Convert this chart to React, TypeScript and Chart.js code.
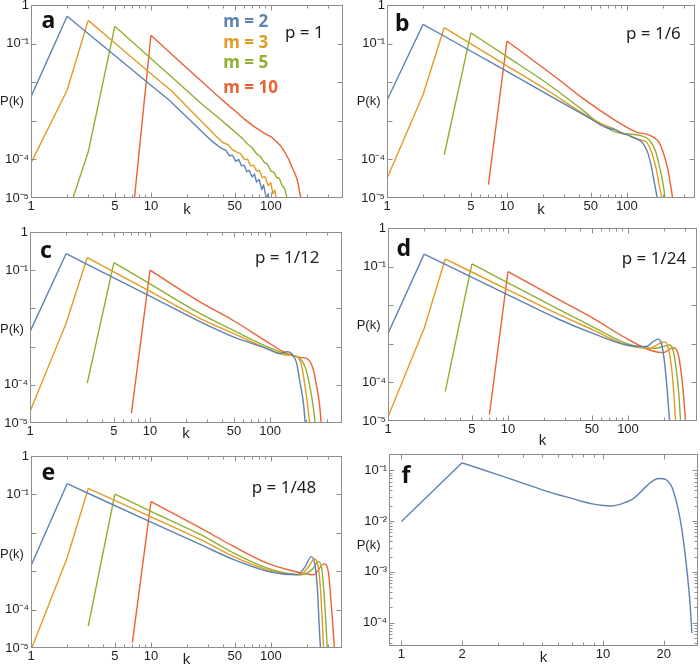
import React, { useEffect, useRef } from "react";
import { Chart, registerables } from "chart.js";

Chart.register(...registerables);

// ---------- colours ----------
const SERIES_COLORS = ["#5E81B5", "#E19C24", "#8FB032", "#EB6235"];
const FRAME_COLOR = "#8e8e8e";
const TEXT_COLOR = "#1e1e1e";

// ---------- categories / labels ----------
const M_VALUES = [2, 3, 5, 10];
const LEGEND_LABELS = ["m = 2", "m = 3", "m = 5", "m = 10"];
const P_LABELS = ["p = 1", "p = 1/6", "p = 1/12", "p = 1/24", "p = 1/48"];
const PANEL_LETTERS = ["a", "b", "c", "d", "e", "f"];

// ---------- ticks ----------
const X_TICKS = [1, 5, 10, 50, 100];
const X_TICK_LABELS = ["1", "5", "10", "50", "100"];
const X_MINOR = [2, 3, 4, 6, 7, 8, 9, 20, 30, 40, 60, 70, 80, 90, 200, 300];
const Y_TICKS = [1, 1e-1, 1e-2, 1e-3, 1e-4, 1e-5];
const Y_TICK_LABELS = ["1", "10⁻¹", "", "", "10⁻⁴", "10⁻⁵"];
const Y_MINOR: number[] = [];

const F_X_TICKS = [1, 2, 10, 20];
const F_X_TICK_LABELS = ["1", "2", "10", "20"];
const F_X_MINOR = [3, 4, 5, 6, 7, 8, 9];
const F_Y_TICKS = [1e-1, 1e-2, 1e-3, 1e-4];
const F_Y_TICK_LABELS = ["10⁻¹", "10⁻²", "10⁻³", "10⁻⁴"];
const F_Y_MINOR = [
  2e-1, 9e-2, 8e-2, 7e-2, 6e-2, 5e-2, 4e-2, 3e-2, 2e-2,
  9e-3, 8e-3, 7e-3, 6e-3, 5e-3, 4e-3, 3e-3, 2e-3,
  9e-4, 8e-4, 7e-4, 6e-4, 5e-4, 4e-4, 3e-4, 2e-4,
  9e-5, 8e-5, 7e-5, 6e-5, 5e-5, 4e-5,
];

// ---------- panel a (p = 1) ----------
const A_K_M2 = [1, 2, 5, 10, 14, 18, 22, 26, 30, 33, 36, 39, 42, 45, 48, 51, 54, 57, 60, 63, 66, 70, 73, 76, 80, 84, 87, 90, 93, 95, 98];
const A_P_M2 = [4.2e-3, 0.51, 4.9e-2, 8.3e-3, 3.55e-3, 1.7e-3, 9.3e-4, 5.6e-4, 3.7e-4, 2.8e-4, 2.3e-4, 1.9e-4, 1.74e-4, 1.26e-4, 1.26e-4, 8.9e-5, 1.0e-4, 6.8e-5, 7.1e-5, 4.8e-5, 5.2e-5, 3.5e-5, 4.2e-5, 2.6e-5, 3.0e-5, 1.66e-5, 2.2e-5, 1.3e-5, 8.9e-6, 1.3e-5, 6.3e-6];
const A_K_M3 = [1, 2, 3, 5, 10, 15, 20, 25, 30, 35, 40, 44, 48, 52, 56, 60, 64, 68, 72, 76, 80, 85, 90, 95, 100, 104, 108, 112];
const A_P_M3 = [8.1e-5, 6.2e-3, 0.4, 0.104, 1.66e-2, 5.8e-3, 2.3e-3, 1.15e-3, 6.5e-4, 4.0e-4, 2.7e-4, 2.4e-4, 1.78e-4, 1.55e-4, 1.41e-4, 1.0e-4, 1.0e-4, 6.8e-5, 7.1e-5, 5.0e-5, 5.2e-5, 3.4e-5, 3.5e-5, 2.1e-5, 2.5e-5, 1.3e-5, 1.6e-5, 7.1e-6];
const A_K_M5 = [2, 3, 5, 10, 16, 20, 27, 35, 44, 52, 58, 64, 70, 76, 82, 88, 94, 100, 106, 112, 118, 124, 130, 135, 139];
const A_P_M5 = [3.5e-6, 1.55e-4, 0.28, 4.1e-2, 1.12e-2, 6.0e-3, 2.6e-3, 1.35e-3, 7.4e-4, 4.7e-4, 3.5e-4, 2.5e-4, 2.0e-4, 1.41e-4, 1.17e-4, 8.5e-5, 7.4e-5, 5.0e-5, 4.7e-5, 3.4e-5, 3.2e-5, 2.1e-5, 1.78e-5, 1.17e-5, 6.3e-6];
const A_K_M10 = [7, 10, 20, 26, 35, 45, 52, 60, 70, 80, 90, 100, 110, 120, 130, 140, 150, 158, 165, 170, 174, 178, 182];
const A_P_M10 = [2.8e-6, 0.164, 2.3e-2, 1.1e-2, 4.8e-3, 2.4e-3, 1.66e-3, 1.12e-3, 7.6e-4, 5.8e-4, 4.6e-4, 3.9e-4, 3.0e-4, 2.3e-4, 1.58e-4, 1.05e-4, 6.3e-5, 4.5e-5, 3.2e-5, 2.1e-5, 1.4e-5, 1.0e-5, 5.0e-6];

// ---------- panel b (p = 1/6) ----------
const B_K_M2 = [1, 2, 10, 30, 50, 60, 72, 80, 90, 100, 112, 125, 136, 150, 160, 170, 178, 184];
const B_P_M2 = [3.4e-3, 0.316, 1.9e-2, 2.75e-3, 1.12e-3, 7.9e-4, 6.3e-4, 5.9e-4, 4.7e-4, 4.4e-4, 3.7e-4, 3.2e-4, 2.6e-4, 1.41e-4, 6.3e-5, 2.3e-5, 1.07e-5, 5.0e-6];
const B_K_M3 = [1, 2, 3, 10, 23, 43, 60, 72, 90, 112, 130, 145, 160, 174, 185, 194, 200];
const B_P_M3 = [3.2e-5, 4.8e-3, 0.26, 2.66e-2, 5.5e-3, 1.55e-3, 8.7e-4, 6.8e-4, 5.0e-4, 3.8e-4, 3.2e-4, 2.8e-4, 1.55e-4, 6.3e-5, 2.3e-5, 1.07e-5, 5.0e-6];
const B_K_M5 = [3, 5, 10, 23, 43, 59, 81, 100, 128, 155, 174, 187, 200, 207, 212];
const B_P_M5 = [1.32e-4, 0.19, 4.6e-2, 8.1e-3, 1.86e-3, 8.5e-4, 5.1e-4, 4.6e-4, 4.2e-4, 3.1e-4, 1.55e-4, 6.3e-5, 2.3e-5, 1.07e-5, 5.0e-6];
const B_K_M10 = [7, 10, 27, 43, 81, 120, 155, 187, 206, 220, 230, 239, 244];
const B_P_M10 = [2.2e-5, 0.117, 1.17e-2, 3.8e-3, 1.0e-3, 5.1e-4, 4.2e-4, 2.6e-4, 1.15e-4, 5.2e-5, 2.3e-5, 1.07e-5, 5.0e-6];

// ---------- panel c (p = 1/12) ----------
const C_K_M2 = [1, 2, 10, 26, 49, 94, 121, 130, 138, 151, 167, 178, 190, 196, 200];
const C_P_M2 = [2.45e-3, 0.27, 2.1e-2, 4.5e-3, 1.82e-3, 8.9e-4, 6.6e-4, 7.0e-4, 7.4e-4, 6.6e-4, 3.6e-4, 1.1e-4, 3.3e-5, 1.1e-5, 6.3e-6];
const C_K_M3 = [1, 2, 3, 10, 26, 49, 94, 138, 167, 184, 196, 205, 213, 217];
const C_P_M3 = [2.0e-5, 4.1e-3, 0.214, 2.8e-2, 5.5e-3, 2.24e-3, 8.9e-4, 6.0e-4, 5.5e-4, 3.0e-4, 8.9e-5, 3.3e-5, 1.1e-5, 6.3e-6];
const C_K_M5 = [3, 5, 10, 26, 49, 94, 147, 178, 200, 215, 227, 237, 242];
const C_P_M5 = [1.1e-4, 0.158, 4.4e-2, 7.4e-3, 2.7e-3, 1.0e-3, 6.0e-4, 4.9e-4, 2.45e-4, 8.9e-5, 3.3e-5, 1.1e-5, 6.3e-6];
const C_K_M10 = [7, 10, 26, 49, 94, 129, 178, 202, 230, 245, 258, 266, 270];
const C_P_M10 = [1.82e-5, 0.1, 1.48e-2, 4.9e-3, 1.35e-3, 7.4e-4, 5.2e-4, 4.9e-4, 2.45e-4, 8.9e-5, 3.3e-5, 1.1e-5, 6.3e-6];

// ---------- panel d (p = 1/24) ----------
const D_K_M2 = [1, 2, 10, 27, 51, 97, 142, 161, 178, 190, 202, 211, 222, 226];
const D_P_M2 = [1.86e-3, 0.21, 1.86e-2, 4.2e-3, 1.86e-3, 9.3e-4, 8.5e-4, 1.12e-3, 1.32e-3, 1.02e-3, 3.2e-4, 7.8e-5, 1.07e-5, 6.3e-6];
const D_K_M3 = [1, 2, 3, 10, 27, 51, 97, 151, 184, 202, 215, 230, 240, 249, 253];
const D_P_M3 = [1.29e-5, 2.5e-3, 0.158, 2.5e-2, 5.6e-3, 2.3e-3, 9.3e-4, 7.6e-4, 1.02e-3, 1.12e-3, 8.5e-4, 2.6e-4, 6.3e-5, 1.07e-5, 6.3e-6];
const D_K_M5 = [3, 5, 10, 27, 51, 97, 161, 196, 222, 237, 253, 265, 274, 278];
const D_P_M5 = [5.8e-5, 0.117, 3.8e-2, 7.6e-3, 2.75e-3, 1.02e-3, 7.6e-4, 8.5e-4, 9.3e-4, 6.9e-4, 2.1e-4, 5.2e-5, 1.07e-5, 6.3e-6];
const D_K_M10 = [7, 10, 27, 51, 97, 151, 196, 237, 261, 278, 291, 301, 305];
const D_P_M10 = [1.45e-5, 7.4e-2, 1.35e-2, 4.6e-3, 1.38e-3, 6.9e-4, 5.9e-4, 7.9e-4, 5.6e-4, 1.74e-4, 4.3e-5, 1.07e-5, 6.3e-6];

// ---------- panel e (p = 1/48) ----------
const E_K_M2 = [1, 2, 10, 26, 49, 93, 165, 193, 217, 234, 245, 251, 258, 262];
const E_P_M2 = [1.38e-3, 0.19, 1.9e-2, 4.9e-3, 2.0e-3, 1.0e-3, 8.1e-4, 1.32e-3, 2.4e-3, 1.32e-3, 2.75e-4, 5.5e-5, 1.12e-5, 6.3e-6];
const E_K_M3 = [1, 2, 3, 10, 26, 49, 93, 175, 206, 230, 250, 261, 268, 274, 278];
const E_P_M3 = [8.9e-6, 2.2e-3, 0.143, 2.6e-2, 6.6e-3, 2.4e-3, 1.1e-3, 8.1e-4, 1.32e-3, 2.1e-3, 1.1e-3, 2.24e-4, 4.6e-5, 1.12e-5, 6.3e-6];
const E_K_M5 = [3, 5, 10, 26, 49, 93, 175, 220, 250, 266, 278, 287, 294, 298];
const E_P_M5 = [3.7e-5, 0.102, 3.6e-2, 8.9e-3, 2.95e-3, 1.2e-3, 8.1e-4, 1.1e-3, 1.78e-3, 1.1e-3, 2.24e-4, 4.6e-5, 1.12e-5, 6.3e-6];
const E_K_M10 = [7, 10, 26, 49, 93, 155, 226, 278, 302, 316, 327, 337, 342];
const E_P_M10 = [1.38e-5, 6.5e-2, 1.32e-2, 4.4e-3, 1.62e-3, 1.0e-3, 8.1e-4, 1.55e-3, 8.9e-4, 1.82e-4, 4.6e-5, 1.12e-5, 6.3e-6];

// ---------- panel f ----------
const F_K = [1, 2, 3, 4, 5, 6, 7, 8, 9, 10, 11, 12, 13, 14, 15, 16, 17, 18, 19, 20, 21, 22, 23, 24, 25, 26, 27, 27.6];
const F_P = [9.8e-3, 0.14, 8.2e-2, 5.6e-2, 4.1e-2, 3.3e-2, 2.8e-2, 2.4e-2, 2.15e-2, 2.02e-2, 1.98e-2, 2.1e-2, 2.35e-2, 2.7e-2, 3.4e-2, 4.4e-2, 5.5e-2, 6.5e-2, 6.9e-2, 6.8e-2, 6.1e-2, 4.6e-2, 2.6e-2, 1.24e-2, 4.4e-3, 1.2e-3, 2.5e-4, 6.2e-5];

// ---------- layout (positions, not data) ----------
type Series = { m: number; k: number[]; p: number[]; color: string };
type PanelSpec = {
  L: number; T: number; R: number; B: number; H: number; kOff: number;
  xMin: number; xMax: number; yMin: number; yMax: number;
  xTicks: number[]; xLabels: string[]; xMinor: number[];
  yTicks: number[]; yLabels: string[]; yMinor: number[];
  noisyStraight: boolean;
  series: Series[];
};

const four = (ks: number[][], ps: number[][]): Series[] =>
  M_VALUES.map((m, i) => ({ m, k: ks[i], p: ps[i], color: SERIES_COLORS[i] }));

const baseAxes = {
  xMin: 1, yMin: 1e-5, yMax: 1,
  xTicks: X_TICKS, xLabels: X_TICK_LABELS, xMinor: X_MINOR,
  yTicks: Y_TICKS, yLabels: Y_TICK_LABELS, yMinor: Y_MINOR,
};

const PANELS: PanelSpec[] = [
  { ...baseAxes, L: 31, T: 5, R: 343, B: 198, H: 24, kOff: 12, xMax: 400, noisyStraight: true,
    series: four([A_K_M2, A_K_M3, A_K_M5, A_K_M10], [A_P_M2, A_P_M3, A_P_M5, A_P_M10]) },
  { ...baseAxes, L: 387, T: 5, R: 695, B: 198, H: 24, kOff: 12, xMax: 369, noisyStraight: false,
    series: four([B_K_M2, B_K_M3, B_K_M5, B_K_M10], [B_P_M2, B_P_M3, B_P_M5, B_P_M10]) },
  { ...baseAxes, L: 30, T: 232, R: 342, B: 423, H: 24, kOff: 11, xMax: 398, noisyStraight: false,
    series: four([C_K_M2, C_K_M3, C_K_M5, C_K_M10], [C_P_M2, C_P_M3, C_P_M5, C_P_M10]) },
  { ...baseAxes, L: 388, T: 228, R: 697, B: 421, H: 30, kOff: 20, xMax: 376, noisyStraight: false,
    series: four([D_K_M2, D_K_M3, D_K_M5, D_K_M10], [D_P_M2, D_P_M3, D_P_M5, D_P_M10]) },
  { ...baseAxes, L: 31, T: 456, R: 342, B: 648, H: 24, kOff: 12, xMax: 391, noisyStraight: false,
    series: four([E_K_M2, E_K_M3, E_K_M5, E_K_M10], [E_P_M2, E_P_M3, E_P_M5, E_P_M10]) },
  { L: 389, T: 454, R: 698, B: 646, H: 24, kOff: 12, xMin: 0.868, xMax: 29.6, yMin: 3.47e-5, yMax: 0.209,
    xTicks: F_X_TICKS, xLabels: F_X_TICK_LABELS, xMinor: F_X_MINOR,
    yTicks: F_Y_TICKS, yLabels: F_Y_TICK_LABELS, yMinor: F_Y_MINOR, noisyStraight: false,
    series: [{ m: 2, k: F_K, p: F_P, color: SERIES_COLORS[0] }] },
];

const TICK_FONT = "'Liberation Sans', Arial, Helvetica, sans-serif";
const NOTE_FONT = "'Noto Sans', 'Open Sans', sans-serif";

type TextItem = { text: string; x: number; base: number; size: number; bold?: boolean; family: string; color: string; asc: number };
const NOTO_ASC = 0.888;
const LIB_ASC = 0.8465;

const LETTER_POS = [[41.5, 28.5], [395, 31.5], [40, 258.5], [396.5, 256.5], [41.5, 480], [401.5, 483.5]];
const PLABEL_POS = [[285, 37.7], [626, 39.3], [255, 262.7], [621.7, 264.3], [251.7, 492.7]];
const PK_POS = [[0, 105], [356.7, 105], [0, 332.7], [356.7, 329.3], [0, 557.7], [356.7, 549.3]];
const LEGEND_POS = [[223.3, 26.7], [223.3, 47.7], [223.3, 67.7], [223.3, 93.3]];

const TEXTS: TextItem[] = [
  ...PANEL_LETTERS.map((t, i) => ({ text: t, x: LETTER_POS[i][0], base: LETTER_POS[i][1], size: 23, bold: true, family: NOTE_FONT, color: "#111", asc: NOTO_ASC })),
  ...P_LABELS.map((t, i) => ({ text: t, x: PLABEL_POS[i][0], base: PLABEL_POS[i][1], size: 17, family: NOTE_FONT, color: TEXT_COLOR, asc: NOTO_ASC })),
  ...PK_POS.map((p) => ({ text: "P(k)", x: p[0], base: p[1], size: 13, family: TICK_FONT, color: TEXT_COLOR, asc: LIB_ASC })),
  ...LEGEND_LABELS.map((t, i) => ({ text: t, x: LEGEND_POS[i][0], base: LEGEND_POS[i][1], size: 17, bold: true, family: NOTE_FONT, color: SERIES_COLORS[i], asc: NOTO_ASC })),
];

const Y_AXIS_W = 31;
const PAD_T = 12;
const PAD_R = 5;

function Panel({ spec }: { spec: PanelSpec }) {
  const ref = useRef<HTMLCanvasElement | null>(null);
  const cx = spec.L - Y_AXIS_W;
  const cy = spec.T - PAD_T;
  const cw = spec.R + PAD_R - cx;
  const ch = spec.B + spec.H - cy;

  useEffect(() => {
    const canvas = ref.current;
    if (!canvas) return;
    const datasets: any[] = [];
    spec.series.forEach((s) => {
      const pts = s.k.map((k, i) => ({ x: k, y: s.p[i] }));
      const pk = s.k.indexOf(s.m);
      const common = {
        borderColor: s.color,
        backgroundColor: s.color,
        borderWidth: 1.4,
        pointRadius: 0,
        fill: false,
        borderJoinStyle: "round",
        capBezierPoints: false,
      };
      datasets.push({ ...common, data: pts.slice(0, pk + 1), tension: 0 });
      datasets.push({
        ...common,
        data: pts.slice(pk),
        tension: 0,
        cubicInterpolationMode: spec.noisyStraight ? "default" : "monotone",
      });
    });

    const frame = {
      id: "frameTicks",
      afterDatasetsDraw(chart: any) {
        const { ctx, chartArea: ca } = chart;
        const xs = chart.scales.x;
        const ys = chart.scales.y;
        const l = Math.round(ca.left) + 0.5;
        const r = Math.round(ca.right) - 0.5;
        const t = Math.round(ca.top) + 0.5;
        const b = Math.round(ca.bottom) - 0.5;
        ctx.save();
        ctx.strokeStyle = FRAME_COLOR;
        ctx.lineWidth = 1;
        ctx.beginPath();
        const xt = (vals: number[], len: number) => {
          vals.forEach((v) => {
            const px = Math.round(xs.getPixelForValue(v)) + 0.5;
            if (px <= l + 1 || px >= r - 1) return;
            ctx.moveTo(px, b); ctx.lineTo(px, b - len);
            ctx.moveTo(px, t); ctx.lineTo(px, t + len);
          });
        };
        const yt = (vals: number[], len: number) => {
          vals.forEach((v) => {
            const py = Math.round(ys.getPixelForValue(v)) + 0.5;
            if (py <= t + 1 || py >= b - 1) return;
            ctx.moveTo(l, py); ctx.lineTo(l + len, py);
            ctx.moveTo(r, py); ctx.lineTo(r - len, py);
          });
        };
        xt(spec.xTicks, 5);
        xt(spec.xMinor, 3);
        yt(spec.yTicks, 5);
        yt(spec.yMinor, 3);
        ctx.stroke();
        ctx.strokeRect(l, t, r - l, b - t);
        ctx.restore();
      },
    };

    const titlePad = spec.H - 9 - spec.kOff;

    const chart = new Chart(canvas, {
      type: "line",
      data: { datasets },
      options: {
        animation: false,
        responsive: false,
        maintainAspectRatio: false,
        devicePixelRatio: 1,
        events: [],
        layout: { padding: { left: 0, right: PAD_R, top: PAD_T, bottom: 0 } },
        plugins: { legend: { display: false }, tooltip: { enabled: false }, title: { display: false } },
        scales: {
          x: {
            type: "logarithmic",
            position: "bottom",
            min: spec.xMin,
            max: spec.xMax,
            bounds: "data",
            grid: { display: false, drawTicks: false },
            border: { display: false },
            ticks: {
              autoSkip: false,
              maxRotation: 0,
              minRotation: 0,
              padding: 1,
              color: TEXT_COLOR,
              font: { family: TICK_FONT, size: 13 },
              callback: (_v: any, i: number) => spec.xLabels[i] ?? "",
            },
            afterBuildTicks: (s: any) => {
              s.ticks = spec.xTicks.map((v) => ({ value: v }));
            },
            afterFit: (s: any) => {
              s.height = spec.H;
            },
            title: {
              display: true,
              text: "k",
              color: TEXT_COLOR,
              font: { family: TICK_FONT, size: 15 },
              padding: { top: 0, bottom: titlePad },
            },
          },
          y: {
            type: "logarithmic",
            position: "left",
            min: spec.yMin,
            max: spec.yMax,
            bounds: "data",
            grid: { display: false, drawTicks: false },
            border: { display: false },
            ticks: {
              autoSkip: false,
              padding: 2,
              color: TEXT_COLOR,
              font: { family: TICK_FONT, size: 13 },
              callback: (_v: any, i: number) => spec.yLabels[i] ?? "",
            },
            afterBuildTicks: (s: any) => {
              s.ticks = spec.yTicks.map((v) => ({ value: v }));
            },
            afterFit: (s: any) => {
              s.width = Y_AXIS_W;
            },
          },
        },
      } as any,
      plugins: [frame as any],
    });
    return () => chart.destroy();
  }, []);

  return (
    <canvas
      ref={ref}
      width={cw}
      height={ch}
      style={{ position: "absolute", left: cx, top: cy, width: cw, height: ch }}
    />
  );
}

export default function App() {
  return (
    <div
      style={{
        position: "absolute",
        left: 0,
        top: 0,
        width: 700,
        height: 664,
        overflow: "hidden",
        background: "#ffffff",
      }}
    >
      {PANELS.map((p, i) => (
        <Panel key={i} spec={p} />
      ))}
      {TEXTS.map((t, i) => (
        <div
          key={"t" + i}
          style={{
            position: "absolute",
            left: t.x,
            top: t.base - t.asc * t.size,
            fontFamily: t.family,
            fontSize: t.size,
            fontWeight: t.bold ? 700 : 400,
            lineHeight: 1,
            whiteSpace: "nowrap",
            color: t.color,
          }}
        >
          {t.text}
        </div>
      ))}
    </div>
  );
}
